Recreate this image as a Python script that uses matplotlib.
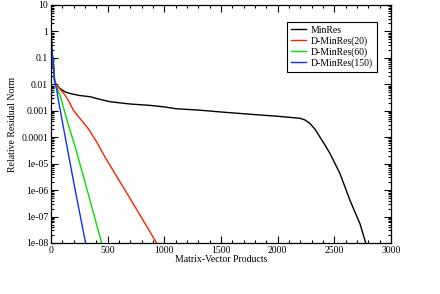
import matplotlib
matplotlib.use("Agg")
import matplotlib.pyplot as plt
from matplotlib.ticker import MultipleLocator, LogLocator, FixedLocator, FixedFormatter, NullFormatter

# data
minres_x = [0, 8, 18, 32, 50, 79, 124, 168, 250, 344, 432, 521, 700, 874, 1000, 1100, 1315,
            1500, 1756, 2000, 2197, 2241, 2285, 2330, 2374, 2418, 2462, 2550, 2638, 2726, 2777]
minres_y = [1.0, 0.2, 0.07, 0.013, 0.0095, 0.0069, 0.0052, 0.0045, 0.0038, 0.0034, 0.0027,
            0.0022, 0.0018, 0.0016, 0.0014, 0.0012, 0.00105, 0.0009, 0.00074, 0.00062,
            0.00052, 0.00045, 0.00033, 0.0002, 0.0001, 5e-5, 2.4e-5, 4.2e-6, 4.1e-7, 5.4e-8, 1e-8]

dm20_x = [0, 8, 18, 32, 50, 80, 124, 160, 197, 256, 329, 403, 476, 560, 653, 740, 829, 932]
dm20_y = [1.0, 0.2, 0.07, 0.013, 0.0095, 0.0065, 0.0039, 0.0022, 0.00105, 0.00051, 0.00021,
          6.6e-5, 1.8e-5, 4.5e-6, 1e-6, 2.4e-7, 5.5e-8, 1e-8]

dm60_x = [0, 8, 18, 32, 50, 79, 150, 212, 300, 447]
dm60_y = [1.0, 0.2, 0.07, 0.013, 0.0075, 0.0039, 0.00033, 4.5e-5, 2e-6, 1e-8]

dm150_x = [0, 8, 18, 32, 50, 65, 124, 200, 305]
dm150_y = [1.0, 0.2, 0.07, 0.013, 0.0065, 0.0025, 0.00011, 2e-6, 1e-8]

ytick_vals = [10, 1, 0.1, 0.01, 0.001, 0.0001, 1e-5, 1e-6, 1e-7, 1e-8]
ytick_labels = ["10", "1", "0.1", "0.01", "0.001", "0.0001", "1e-05", "1e-06", "1e-07", "1e-08"]

plt.rcParams['font.family'] = ['Liberation Serif', 'DejaVu Serif']
plt.rcParams['font.size'] = 7

fig = plt.figure(figsize=(4.4, 2.94), dpi=100)
ax = fig.add_axes([51/440, 1-243/294, 340/440, 238/294])

ax.plot(minres_x, minres_y, color='black', lw=1.0, label='MinRes')
ax.plot(dm20_x, dm20_y, color='#ff2000', lw=1.0, label='D-MinRes(20)')
ax.plot(dm60_x, dm60_y, color='#00e000', lw=1.0, label='D-MinRes(60)')
ax.plot(dm150_x, dm150_y, color='#1030ff', lw=1.0, label='D-MinRes(150)')

ax.set_yscale('log')
ax.set_xlim(0, 3000)
ax.set_ylim(1e-8, 10)

ax.xaxis.set_major_locator(MultipleLocator(500))
ax.xaxis.set_minor_locator(MultipleLocator(100))
ax.yaxis.set_major_locator(FixedLocator(ytick_vals))
ax.yaxis.set_major_formatter(FixedFormatter(ytick_labels))
ax.yaxis.set_minor_locator(LogLocator(base=10, subs=range(2, 10), numticks=20))
ax.yaxis.set_minor_formatter(NullFormatter())

ax.tick_params(which='both', direction='in', top=True, right=True, width=0.8, pad=2,
               labelsize=7)
ax.tick_params(which='major', length=5)
ax.tick_params(which='minor', length=2.5)
for s in ax.spines.values():
    s.set_linewidth(0.9)

ax.set_xlabel('Matrix-Vector Products', fontsize=7, labelpad=0)
ax.set_ylabel('Relative Residual Norm', fontsize=7, labelpad=3)

leg = ax.legend(loc='upper right', bbox_to_anchor=((377-51)/340, (243-22)/238),
                borderaxespad=0, fancybox=False, edgecolor='black', framealpha=1,
                fontsize=7, handlelength=1.55, handletextpad=0.5, labelspacing=0.15,
                borderpad=0.4)
leg.get_frame().set_linewidth(0.8)

fig.savefig('out.png', dpi=100)
